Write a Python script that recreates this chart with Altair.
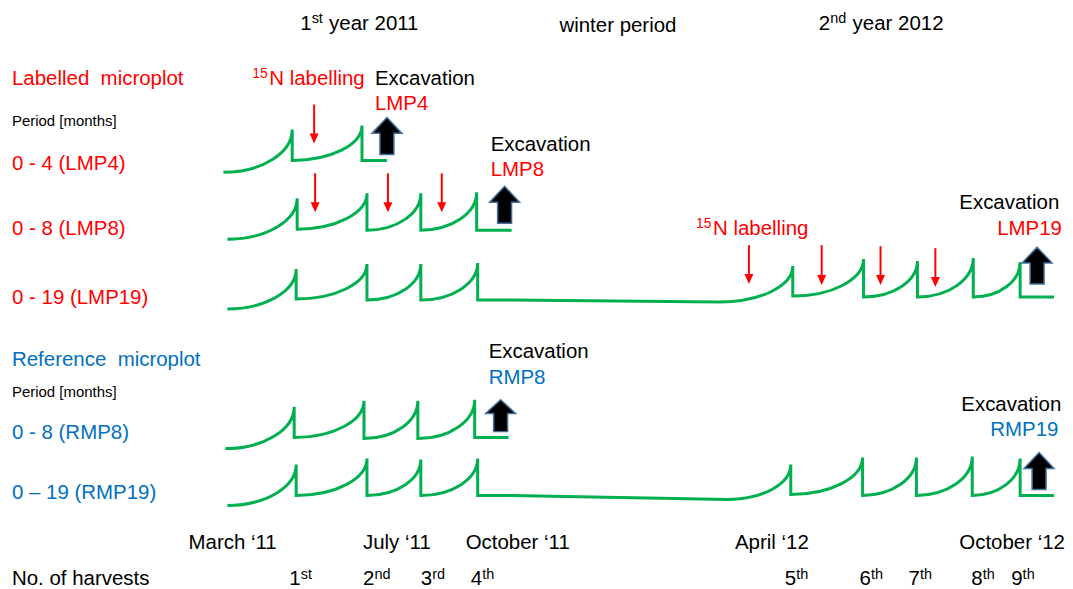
import altair as alt
import pandas as pd

# ---------------- data (pixel-like units) ----------------
GREEN = "#00B050"
RED = "#FF0000"
BLUE = "#0070C0"

# growth curves: start point, harvest peaks (x, top), level after each cut, end of line
LMP4_START = [224, 172]
LMP4_PEAK_X = [293, 363]
LMP4_PEAK_Y = [129, 125]
LMP4_DROP_Y = [160, 160]
LMP4_END_X = 388

LMP8_START = [228, 239]
LMP8_PEAK_X = [298, 368, 422, 478]
LMP8_PEAK_Y = [198, 193, 193, 192]
LMP8_DROP_Y = [229, 230, 230, 230]
LMP8_END_X = 513

LMP19_START = [228, 309]
LMP19_PEAK_X = [297, 368, 422, 479, 795, 866, 920, 976, 1023]
LMP19_PEAK_Y = [269, 264, 264, 263, 266, 259, 261, 258, 262]
LMP19_DROP_Y = [299, 300, 300, 300, 296, 297, 297, 297, 297]
LMP19_WINTER_X = [513, 722]
LMP19_WINTER_Y = [300, 302]
LMP19_END_X = 1057

RMP8_START = [226, 449]
RMP8_PEAK_X = [295, 365, 419, 476]
RMP8_PEAK_Y = [407, 401, 401, 400]
RMP8_DROP_Y = [438, 439, 439, 438]
RMP8_END_X = 510

RMP19_START = [228, 506]
RMP19_PEAK_X = [297, 368, 422, 479, 793, 865, 919, 975, 1023]
RMP19_PEAK_Y = [465, 459, 460, 459, 465, 458, 458, 457, 459]
RMP19_DROP_Y = [496, 496, 496, 496, 495, 496, 496, 496, 496]
RMP19_WINTER_X = [513, 730]
RMP19_WINTER_Y = [496, 500]
RMP19_END_X = 1057

WINTER_AFTER_HARVEST = 4

# 15N labelling arrows
RED_ARROW_X = [315, 316, 389, 443, 751, 824, 883, 938]
RED_ARROW_TOP = [104, 173, 173, 173, 245, 245, 246, 248]
RED_ARROW_BOTTOM = [143, 212, 212, 212, 284, 285, 285, 287]

# excavation arrows
BLACK_ARROW_X = [388, 506, 1040, 502, 1042]
BLACK_ARROW_TOP = [117, 186, 247, 400, 453]
BLACK_ARROW_BOTTOM = [154, 223, 284, 432, 490]

# texts
HEADER_NUM = ["1", "2"]
HEADER_SUP = ["st", "nd"]
HEADER_REST = ["year 2011", "year 2012"]
HEADER_NUM_X = [301, 821]
HEADER_REST_X = [330, 855]
HEADER_Y = [22, 22]

BLACK_TEXT = ["winter period", "Excavation", "Excavation", "Excavation", "Excavation",
              "Excavation", "March \u201811", "July \u201811", "October \u201811",
              "April \u201812", "October \u201812", "No. of harvests"]
BLACK_TEXT_X = [561, 376, 492, 962, 490, 964, 189, 364, 467, 737, 962, 12]
BLACK_TEXT_Y = [24, 77, 143, 201, 351, 404, 542, 542, 542, 542, 542, 578]

RED_TEXT = ["Labelled\u00a0 microplot", "N labelling", "N labelling", "LMP4", "LMP8",
            "LMP19", "0 - 4 (LMP4)", "0 - 8 (LMP8)", "0 - 19 (LMP19)"]
RED_TEXT_X = [12, 270, 715, 376, 492, 1000, 12, 12, 12]
RED_TEXT_Y = [77, 77, 227, 102, 168, 227, 162, 227, 297]

RED_SUP = ["15", "15"]
RED_SUP_X = [253, 698]
RED_SUP_Y = [77, 227]

BLUE_TEXT = ["Reference\u00a0 microplot", "RMP8", "RMP19", "0 - 8 (RMP8)", "0 \u2013 19 (RMP19)"]
BLUE_TEXT_X = [12, 490, 993, 12, 12]
BLUE_TEXT_Y = [359, 377, 429, 432, 492]

SMALL_TEXT = ["Period [months]", "Period [months]"]
SMALL_TEXT_X = [12, 12]
SMALL_TEXT_Y = [119, 391]

HARVEST_NUM = ["1", "2", "3", "4", "5", "6", "7", "8", "9"]
HARVEST_SUP = ["st", "nd", "rd", "th", "th", "th", "th", "th", "th"]
HARVEST_X = [290, 364, 422, 472, 787, 862, 911, 974, 1014]
HARVEST_Y = 578

# ---------------- layout helpers ----------------
FONT = "Liberation Sans"
BIG = 20.5
SUP = 14.5
RED_SUP_SIZE = 14
DIGIT_W = 11.5
SUP_RAISE = 5
TEXT_DY = 1.5


def row_path(start, peak_x, peak_y, drop_y, end_x, winter_x=None, winter_y=None):
    sx, sy = start
    cx, cy = sx, sy
    parts = ["M0,0"]
    for i, (px, py, dy) in enumerate(zip(peak_x, peak_y, drop_y)):
        if winter_x is not None and i == WINTER_AFTER_HARVEST:
            parts.append(f"L{winter_x[0] - sx},{winter_y[0] - sy}")
            parts.append(f"L{winter_x[1] - sx},{winter_y[1] - sy}")
            cx, cy = winter_x[1], winter_y[1]
        a, b = px - cx, cy - py
        parts.append(f"A{a},{b} 0 0 0 {px - sx},{py - sy}")
        parts.append(f"V{dy - sy}")
        cx, cy = px, dy
    parts.append(f"H{end_x - sx}")
    return " ".join(parts)


rows = pd.DataFrame({
    "row": ["LMP4", "LMP8", "LMP19", "RMP8", "RMP19"],
    "x": [LMP4_START[0], LMP8_START[0], LMP19_START[0], RMP8_START[0], RMP19_START[0]],
    "y": [LMP4_START[1], LMP8_START[1], LMP19_START[1], RMP8_START[1], RMP19_START[1]],
    "path": [
        row_path(LMP4_START, LMP4_PEAK_X, LMP4_PEAK_Y, LMP4_DROP_Y, LMP4_END_X),
        row_path(LMP8_START, LMP8_PEAK_X, LMP8_PEAK_Y, LMP8_DROP_Y, LMP8_END_X),
        row_path(LMP19_START, LMP19_PEAK_X, LMP19_PEAK_Y, LMP19_DROP_Y, LMP19_END_X,
                 LMP19_WINTER_X, LMP19_WINTER_Y),
        row_path(RMP8_START, RMP8_PEAK_X, RMP8_PEAK_Y, RMP8_DROP_Y, RMP8_END_X),
        row_path(RMP19_START, RMP19_PEAK_X, RMP19_PEAK_Y, RMP19_DROP_Y, RMP19_END_X,
                 RMP19_WINTER_X, RMP19_WINTER_Y),
    ],
})

red_arrows = pd.DataFrame({"x": RED_ARROW_X, "top": RED_ARROW_TOP, "bottom": RED_ARROW_BOTTOM})
red_arrows["shaft_end"] = red_arrows["bottom"] - 8


def block_arrow(h):
    head = round(0.43 * h, 1)
    return (f"M0,0 L15,{head} L7,{head} L7,{h} L-7,{h} L-7,{head} L-15,{head} Z")


black_arrows = pd.DataFrame({"x": BLACK_ARROW_X, "top": BLACK_ARROW_TOP, "bottom": BLACK_ARROW_BOTTOM})
black_arrows["path"] = [block_arrow(b - t) for t, b in zip(BLACK_ARROW_TOP, BLACK_ARROW_BOTTOM)]

# ---------------- scales (1 unit = 1 px of the picture) ----------------
W, H = 1057, 573
xs = alt.Scale(domain=[8, 8 + W], nice=False, zero=False)
ys = alt.Scale(domain=[8, 8 + H], nice=False, zero=False, reverse=True)


def X(f):
    return alt.X(f, type="quantitative", scale=xs, axis=None)


def Y(f):
    return alt.Y(f, type="quantitative", scale=ys, axis=None)


curves = alt.Chart(rows).mark_point(
    filled=False, size=4, strokeWidth=3, color=GREEN, opacity=1, strokeJoin="miter"
).encode(x=X("x"), y=Y("y"), shape=alt.Shape("path:N", scale=None))

red_shafts = alt.Chart(red_arrows).mark_rule(color=RED, strokeWidth=2).encode(
    x=X("x"), y=Y("top"), y2="shaft_end")

red_heads = alt.Chart(red_arrows).mark_point(
    shape="M-4.5,-10 L4.5,-10 L0,0 Z", size=4, filled=True, color=RED, opacity=1, strokeWidth=0
).encode(x=X("x"), y=Y("bottom"))

blk_arrows = alt.Chart(black_arrows).mark_point(
    size=4, filled=True, fill="#000000", stroke="#41719C", strokeWidth=1.5, opacity=1
).encode(x=X("x"), y=Y("top"), shape=alt.Shape("path:N", scale=None))


def text_layer(labels, xv, yv, color, size):
    df = pd.DataFrame({"t": labels, "x": xv, "y": yv})
    return alt.Chart(df).mark_text(
        align="left", baseline="middle", font=FONT, fontSize=size, color=color, dy=TEXT_DY
    ).encode(x=X("x"), y=Y("y"), text="t:N")


header_sup_x = [x + DIGIT_W for x in HEADER_NUM_X]
harv_sup_x = [x + DIGIT_W for x in HARVEST_X]

layers = [
    curves, red_shafts, red_heads, blk_arrows,
    text_layer(HEADER_NUM, HEADER_NUM_X, HEADER_Y, "#000000", BIG),
    text_layer(HEADER_SUP, header_sup_x, [y - SUP_RAISE for y in HEADER_Y], "#000000", SUP),
    text_layer(HEADER_REST, HEADER_REST_X, HEADER_Y, "#000000", BIG),
    text_layer(BLACK_TEXT, BLACK_TEXT_X, BLACK_TEXT_Y, "#000000", BIG),
    text_layer(RED_TEXT, RED_TEXT_X, RED_TEXT_Y, RED, BIG),
    text_layer(RED_SUP, RED_SUP_X, [y - SUP_RAISE for y in RED_SUP_Y], RED, RED_SUP_SIZE),
    text_layer(BLUE_TEXT, BLUE_TEXT_X, BLUE_TEXT_Y, BLUE, BIG),
    text_layer(SMALL_TEXT, SMALL_TEXT_X, SMALL_TEXT_Y, "#000000", 15),
    text_layer(HARVEST_NUM, HARVEST_X, [HARVEST_Y] * len(HARVEST_X), "#000000", BIG),
    text_layer(HARVEST_SUP, harv_sup_x, [HARVEST_Y - SUP_RAISE + 1] * len(HARVEST_X), "#000000", SUP),
]

chart = alt.layer(*layers).properties(width=W, height=H, padding=0).configure_view(stroke=None)

chart.save("out.html", embed_options={"renderer": "svg", "actions": False})
